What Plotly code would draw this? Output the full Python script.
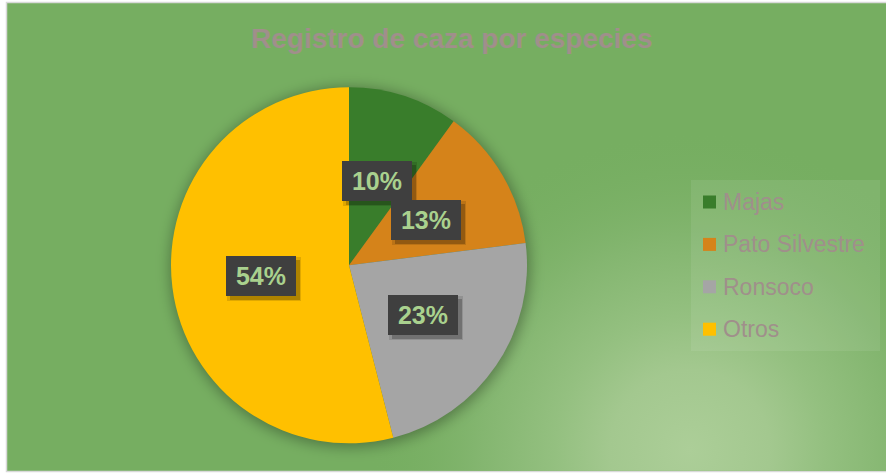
import base64
import math
import plotly.graph_objects as go

# Hunting records by species (share of total, %)
species = ["Majas", "Pato Silvestre", "Ronsoco", "Otros"]
shares = [10, 13, 23, 54]
slice_colors = ["#397D2B", "#D5831A", "#A5A5A5", "#FFC000"]

chart_title = "Registro de caza por especies"

W, H = 886, 474
FONT = "Liberation Sans, Arial, sans-serif"
TEXT_GREY = "#A08F8B"
LABEL_GREEN = "#A9D18E"

# Pie placement (pixels)
PIE_CX, PIE_CY, PIE_R = 349, 265.3, 178

dom_x = [(PIE_CX - PIE_R) / W, (PIE_CX + PIE_R) / W]
dom_y = [1 - (PIE_CY + PIE_R) / H, 1 - (PIE_CY - PIE_R) / H]

# Chart-area background: green fill, soft radial light, soft shadow behind the pie
svg = f"""<svg xmlns='http://www.w3.org/2000/svg' width='{W}' height='{H}' viewBox='0 0 {W} {H}'>
<defs>
<radialGradient id='glow' gradientUnits='userSpaceOnUse' cx='690' cy='450' r='320'>
<stop offset='0' stop-color='#ACCE98' stop-opacity='1'/>
<stop offset='0.25' stop-color='#A3C88F' stop-opacity='1'/>
<stop offset='0.42' stop-color='#94C080' stop-opacity='1'/>
<stop offset='0.65' stop-color='#84B670' stop-opacity='1'/>
<stop offset='1' stop-color='#76AE61' stop-opacity='0'/>
</radialGradient>
<filter id='blur' x='-30%' y='-30%' width='160%' height='160%'>
<feGaussianBlur stdDeviation='7'/>
</filter>
</defs>
<rect x='0' y='0' width='{W}' height='{H}' fill='#FFFFFF'/>
<rect x='6.5' y='2.5' width='{W}' height='469' fill='#76AE61' stroke='#D9D9D9' stroke-width='1.5'/>
<rect x='7.3' y='3.3' width='{W}' height='467.5' fill='url(#glow)'/>
<circle cx='{PIE_CX + 1}' cy='{PIE_CY + 2}' r='{PIE_R + 2}' fill='#000000' fill-opacity='0.32' filter='url(#blur)'/>
</svg>"""
bg_uri = "data:image/svg+xml;base64," + base64.b64encode(svg.encode("utf-8")).decode("ascii")

fig = go.Figure(
    go.Pie(
        labels=species,
        values=shares,
        sort=False,
        direction="clockwise",
        rotation=0,
        marker=dict(colors=slice_colors, line=dict(width=0)),
        textinfo="none",
        hoverinfo="label+percent",
        domain=dict(x=dom_x, y=dom_y),
        showlegend=False,
    )
)

annotations = []
shapes = []

# Data labels: dark boxes with a drop shadow, placed halfway out along each slice's mid-angle
total = sum(shares)
cx_p = sum(dom_x) / 2
cy_p = sum(dom_y) / 2
rx_p = PIE_R / W
ry_p = PIE_R / H
cum = 0.0
for val in shares:
    mid = (cum + val / 2) / total * 2 * math.pi
    cum += val
    lx = cx_p + 0.5 * rx_p * math.sin(mid)
    ly = cy_p + 0.5 * ry_p * math.cos(mid)
    pct = f"{round(val / total * 100)}%"
    for dx, dy, w, h, a in [(3, -3, 74, 44, 0.12), (4, -4, 70, 40, 0.22)]:
        annotations.append(dict(
            x=lx, y=ly, xref="paper", yref="paper", showarrow=False,
            xanchor="center", yanchor="middle",
            text=" ", xshift=dx, yshift=dy, width=w, height=h,
            bgcolor=f"rgba(0,0,0,{a})", borderpad=0, borderwidth=0,
            font=dict(size=25, family=FONT),
        ))
    annotations.append(dict(
        x=lx, y=ly, xref="paper", yref="paper", showarrow=False,
        xanchor="center", yanchor="middle",
        text=f"<b>{pct}</b>", width=70, height=40,
        bgcolor="#3F3F3F", borderpad=0, borderwidth=0,
        align="center", valign="middle",
        font=dict(size=25, family=FONT, color=LABEL_GREEN),
    ))

# Title
annotations.append(dict(
    x=452 / W, y=1 - 38 / H, xref="paper", yref="paper",
    xanchor="center", yanchor="middle", showarrow=False,
    text=f"<b>{chart_title}</b>",
    font=dict(size=28, family=FONT, color=TEXT_GREY),
))

# Legend panel
shapes.append(dict(
    type="rect", xref="paper", yref="paper",
    x0=691 / W, x1=880 / W, y0=1 - 351 / H, y1=1 - 180 / H,
    fillcolor="rgba(255,255,255,0.08)", line=dict(width=0), layer="below",
))
for i, (name, col) in enumerate(zip(species, slice_colors)):
    yc = 202 + i * 42.4
    shapes.append(dict(
        type="rect", xref="paper", yref="paper",
        x0=703 / W, x1=716 / W, y0=1 - (yc + 6.5) / H, y1=1 - (yc - 6.5) / H,
        fillcolor=col, line=dict(width=0), layer="above",
    ))
    annotations.append(dict(
        x=721 / W, y=1 - yc / H, xref="paper", yref="paper",
        xanchor="left", yanchor="middle", showarrow=False,
        text=name, font=dict(size=23, family=FONT, color=TEXT_GREY),
    ))

fig.update_layout(
    width=W, height=H,
    margin=dict(l=0, r=0, t=0, b=0),
    paper_bgcolor="#FFFFFF",
    plot_bgcolor="rgba(0,0,0,0)",
    images=[dict(
        source=bg_uri, xref="paper", yref="paper", x=0, y=1,
        sizex=1, sizey=1, xanchor="left", yanchor="top",
        sizing="stretch", layer="below",
    )],
    annotations=annotations,
    shapes=shapes,
)

fig.write_html("out.html")
